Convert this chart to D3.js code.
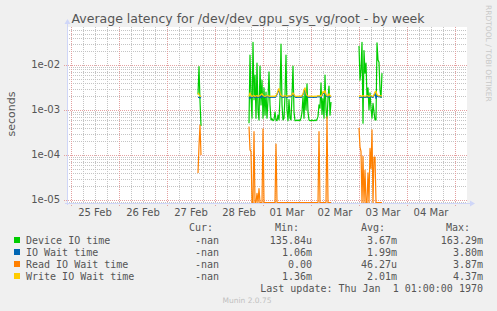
<!DOCTYPE html>
<html lang="en">
<head>
<meta charset="utf-8">
<title>Average latency for /dev/dev_gpu_sys_vg/root - by week</title>
<script src="https://d3js.org/d3.v7.min.js"></script>
<style>
body { margin: 0; background: #f0f0f0; }
svg { display: block; font-family: "DejaVu Sans", sans-serif; }
.grid-minor { stroke: #c4c4c4; stroke-dasharray: 1,1; shape-rendering: crispEdges; }
.grid-major { stroke: #e3a0a0; stroke-dasharray: 1,1; shape-rendering: crispEdges; }
.axis-line { stroke: #cfd6f8; shape-rendering: crispEdges; }
.tick-label { font-size: 10px; fill: #555; }
.legend text { font-family: "DejaVu Sans Mono", monospace; font-size: 10px; fill: #555; white-space: pre; }
.series { fill: none; stroke-width: 1.2; stroke-linejoin: round; }
</style>
</head>
<body>
<div id="chart"></div>
<script>
// ---- data (one value per 30 min) ----
var seriesNames = ["Device IO time", "IO Wait time", "Read IO Wait time", "Write IO Wait time"];
var seriesColors = ["#00cc00", "#0066b3", "#ff8000", "#ffcc00"];

// three stretches of data, the rest is unknown
var segmentStarts = ["2025-02-27T15:30:00Z", "2025-02-28T17:00:00Z", "2025-03-03T00:00:00Z"];

var deviceIO = [
  [2.2e-3, 9.2e-3, 1.6e-3, 4.4e-4],
  [5.1e-4, 0.0167, 0.0021, 6.6e-4, 0.032, 0.0017, 0.006, 6.6e-4, 0.011, 0.001,
   6.0e-4, 0.0095, 0.0013, 0.0046, 6.6e-4, 0.0031, 7.7e-4, 0.0025, 6.6e-4, 0.0017,
   0.007, 0.0013, 6.0e-4, 6.4e-4, 5.8e-4, 6.0e-4, 9.0e-4, 6.0e-4, 5.8e-4, 7.7e-4,
   6.0e-4, 0.0019, 0.029, 0.0013, 6.0e-4, 6.6e-4, 0.0021, 0.0167, 0.001, 5.8e-4,
   0.0017, 6.6e-4, 6.0e-4, 0.0021, 0.0095, 9.0e-4, 5.8e-4, 5.8e-4, 6.0e-4, 5.8e-4,
   6.0e-4, 5.8e-4, 6.6e-4, 9.0e-4, 0.002, 6.6e-4, 0.0028, 0.001, 0.0038, 9.0e-4,
   6.0e-4, 5.8e-4, 5.8e-4, 6.0e-4, 5.8e-4, 5.8e-4, 6.0e-4, 5.8e-4, 6.2e-4, 7.2e-4,
   0.0013, 0.0011, 0.004, 8.0e-4, 0.0018, 6.6e-4, 0.006, 0.001, 6.6e-4, 0.0018,
   0.0034, 7.7e-4, 0.0015],
  [0.0265, 0.0046, 0.0077, 0.032, 5.1e-4, 0.021, 0.0066, 0.011, 0.0019, 0.0031,
   0.001, 0.0024, 0.0011, 6.6e-4, 0.0014, 9.0e-4, 6.0e-4, 6.0e-4, 0.031, 0.0129,
   0.0115, 0.0028, 0.0019, 0.0066]
];

var ioWait = [
  [1.9e-3, 1.9e-3, 1.85e-3, 1.9e-3],
  [1.9e-3, 1.8e-3, 1.95e-3, 1.9e-3, 1.95e-3, 2.0e-3, 1.9e-3, 1.95e-3, 2.0e-3, 1.9e-3,
   1.95e-3, 2.0e-3, 1.85e-3, 2.1e-3, 2.0e-3, 1.95e-3, 1.9e-3, 1.95e-3, 2.0e-3, 1.95e-3,
   1.95e-3, 1.9e-3, 1.9e-3, 1.95e-3, 1.9e-3, 1.95e-3, 1.9e-3, 2.0e-3, 2.2e-3, 2.5e-3,
   2.8e-3, 2.2e-3, 2.0e-3, 1.95e-3, 1.9e-3, 1.95e-3, 2.0e-3, 1.95e-3, 1.9e-3, 1.95e-3,
   2.0e-3, 1.95e-3, 2.0e-3, 2.1e-3, 2.4e-3, 2.1e-3, 1.95e-3, 1.9e-3, 1.9e-3, 1.95e-3,
   1.9e-3, 1.95e-3, 1.9e-3, 2.0e-3, 2.2e-3, 2.6e-3, 2.9e-3, 2.3e-3, 2.0e-3, 1.95e-3,
   1.9e-3, 1.95e-3, 1.9e-3, 1.95e-3, 1.9e-3, 1.9e-3, 1.95e-3, 1.9e-3, 1.95e-3, 2.0e-3,
   1.95e-3, 2.0e-3, 1.9e-3, 2.1e-3, 2.4e-3, 2.3e-3, 2.5e-3, 2.1e-3, 2.0e-3, 1.95e-3,
   2.2e-3, 2.0e-3, 1.9e-3],
  [1.85e-3, 1.9e-3, 1.95e-3, 1.9e-3, 2.0e-3, 1.95e-3, 1.9e-3, 1.95e-3, 2.0e-3, 1.95e-3,
   1.9e-3, 1.95e-3, 2.0e-3, 1.95e-3, 1.9e-3, 2.1e-3, 2.4e-3, 1.8e-3, 2.1e-3, 2.0e-3,
   1.95e-3, 2.0e-3, 1.95e-3, 1.95e-3]
];

var readWait = [
  [4.0e-5, 1.6e-4, 4.6e-4, 1.0e-4],
  [4.3e-4, 1.3e-4, 1.2e-4, 0, 0, 3.3e-4, 0, 0, 1.4e-5, 0,
   1.8e-5, 0, 0, 0, 3.8e-4, 0, 0, 0, 0, 0,
   0, 0, 0, 0, 0, 0, 0, 1.75e-4, 0, 0,
   0, 0, 0, 0, 0, 0, 0, 0, 0, 0,
   0, 0, 0, 0, 0, 0, 0, 0, 0, 0,
   0, 0, 0, 0, 0, 0, 0, 0, 0, 0,
   0, 0, 0, 0, 0, 0, 0, 0, 0, 0,
   3.3e-4, 0, 0, 0, 0, 0, 0, 0, 7.0e-4, 0,
   0, 0, 0],
  [4.0e-4, 1.5e-4, 1.2e-4, 0, 9.3e-5, 0, 4.6e-5, 0, 0, 4.0e-5,
   0, 1.4e-4, 5.0e-5, 3.6e-4, 0, 9.0e-5, 9.0e-5, 0, 0, 0,
   0, 0, 0, 0]
];

var writeWait = [
  [2.4e-3, 2.2e-3, 2.05e-3, 2.0e-3],
  [2.0e-3, 2.4e-3, 2.1e-3, 2.0e-3, 2.05e-3, 2.1e-3, 2.0e-3, 2.05e-3, 2.1e-3, 2.0e-3,
   2.05e-3, 2.1e-3, 2.2e-3, 2.3e-3, 2.1e-3, 2.05e-3, 2.0e-3, 2.05e-3, 2.1e-3, 2.05e-3,
   2.05e-3, 2.0e-3, 2.0e-3, 2.05e-3, 2.0e-3, 2.05e-3, 2.0e-3, 2.1e-3, 2.3e-3, 2.7e-3,
   3.0e-3, 2.4e-3, 2.1e-3, 2.05e-3, 2.0e-3, 2.05e-3, 2.1e-3, 2.05e-3, 2.0e-3, 2.05e-3,
   2.1e-3, 2.05e-3, 2.1e-3, 2.2e-3, 2.4e-3, 2.2e-3, 2.05e-3, 2.0e-3, 2.0e-3, 2.05e-3,
   2.0e-3, 2.05e-3, 2.0e-3, 2.1e-3, 2.3e-3, 2.8e-3, 3.1e-3, 2.4e-3, 2.1e-3, 2.05e-3,
   2.0e-3, 2.05e-3, 2.0e-3, 2.05e-3, 2.0e-3, 2.0e-3, 2.05e-3, 2.0e-3, 2.05e-3, 2.1e-3,
   2.05e-3, 2.1e-3, 2.0e-3, 2.2e-3, 2.6e-3, 2.4e-3, 2.7e-3, 2.2e-3, 2.1e-3, 2.05e-3,
   2.3e-3, 2.1e-3, 2.0e-3],
  [2.0e-3, 2.1e-3, 2.05e-3, 2.0e-3, 2.1e-3, 2.05e-3, 2.0e-3, 2.05e-3, 2.1e-3, 2.05e-3,
   2.0e-3, 2.05e-3, 2.1e-3, 2.05e-3, 2.0e-3, 2.2e-3, 2.5e-3, 2.6e-3, 2.2e-3, 2.1e-3,
   2.05e-3, 2.1e-3, 2.05e-3, 2.05e-3]
];

var yTickValues = [1e-2, 1e-3, 1e-4, 1e-5];
var yTickLabels = ["1e-02", "1e-03", "1e-04", "1e-05"];
var dayLabels = ["25 Feb", "26 Feb", "27 Feb", "28 Feb", "01 Mar", "02 Mar", "03 Mar", "04 Mar"];

var legendCur = ["-nan", "-nan", "-nan", "-nan"];
var legendMin = ["135.84u", "1.06m", "0.00", "1.36m"];
var legendAvg = ["3.67m", "1.99m", "46.27u", "2.01m"];
var legendMax = ["163.29m", "3.80m", "3.87m", "4.37m"];

// ---- layout ----
var W = 497, H = 311;
var margin = {top: 27, left: 67};
var width = 400, height = 176;

var svg = d3.select("#chart").append("svg")
    .attr("width", W)
    .attr("height", H);

svg.append("rect").attr("width", W).attr("height", H).attr("fill", "#f0f0f0");

var tStart = new Date("2025-02-24T22:00:00Z"),
    tEnd = new Date("2025-03-05T06:00:00Z");

var x = d3.scaleUtc().domain([tStart, tEnd]).range([0, width]);
var y = d3.scaleLog()
    .domain([Math.pow(10, -5.0667), Math.pow(10, -1.1556)])
    .range([height, 0]);

var g = svg.append("g")
    .attr("transform", "translate(" + margin.left + "," + margin.top + ")");

g.append("rect").attr("width", width).attr("height", height).attr("fill", "#fff");

// grid: minor every 6 hours / 2..9 per decade, major at midnight / decades
var hours6 = d3.utcHour.every(6).range(tStart, tEnd).filter(function(d) { return d.getUTCHours() !== 0; });
var days = d3.utcDay.range(tStart, tEnd);

var minorY = [];
for (var e = -6; e <= -1; e++) {
  for (var m = 2; m <= 9; m++) {
    var v = m * Math.pow(10, e);
    if (v > y.domain()[0] && v < y.domain()[1]) minorY.push(v);
  }
}

g.selectAll(".gx-minor").data(hours6).enter().append("line")
    .attr("class", "grid-minor")
    .attr("x1", function(d) { return Math.round(x(d)) + 0.5; })
    .attr("x2", function(d) { return Math.round(x(d)) + 0.5; })
    .attr("y1", 0).attr("y2", height);

g.selectAll(".gy-minor").data(minorY).enter().append("line")
    .attr("class", "grid-minor")
    .attr("x1", 0).attr("x2", width)
    .attr("y1", function(d) { return Math.round(y(d)) + 0.5; })
    .attr("y2", function(d) { return Math.round(y(d)) + 0.5; });

g.selectAll(".gx-major").data(days).enter().append("line")
    .attr("class", "grid-major")
    .attr("x1", function(d) { return Math.round(x(d)) + 0.5; })
    .attr("x2", function(d) { return Math.round(x(d)) + 0.5; })
    .attr("y1", 0).attr("y2", height + 3);

g.selectAll(".gy-major").data(yTickValues).enter().append("line")
    .attr("class", "grid-major")
    .attr("x1", -3).attr("x2", width)
    .attr("y1", function(d) { return Math.round(y(d)) + 0.5; })
    .attr("y2", function(d) { return Math.round(y(d)) + 0.5; });

// ---- series ----
function buildPoints(segs) {
  var pts = [];
  segs.forEach(function(vals, si) {
    var t0 = new Date(segmentStarts[si]).getTime();
    vals.forEach(function(v, i) {
      pts.push({t: new Date(t0 + i * 1800000), v: v});
    });
    pts.push({t: null, v: null}); // gap between stretches
  });
  return pts;
}

var line = d3.line()
    .defined(function(d) { return d.v !== null; })
    .x(function(d) { return x(d.t); })
    .y(function(d) { return d.v > 0 ? y(d.v) : height - 0.5; });

g.append("clipPath").attr("id", "plotclip")
  .append("rect").attr("x", 0).attr("y", 0).attr("width", width).attr("height", height);

var allSeries = [deviceIO, ioWait, readWait, writeWait];
var plot = g.append("g").attr("clip-path", "url(#plotclip)");
allSeries.forEach(function(s, i) {
  plot.append("path")
      .datum(buildPoints(s))
      .attr("class", "series")
      .attr("stroke", seriesColors[i])
      .attr("d", line);
});

// ---- axes (munin style: pale lines with arrows) ----
g.append("line").attr("class", "axis-line")
    .attr("x1", 0.5).attr("x2", 0.5).attr("y1", height + 2).attr("y2", -4);
g.append("path").attr("fill", "#cfd6f8")
    .attr("d", "M-2.5,-3 L3.5,-3 L0.5,-8 Z");
g.append("line").attr("class", "axis-line")
    .attr("x1", -2).attr("x2", width + 4).attr("y1", height + 0.5).attr("y2", height + 0.5);
g.append("path").attr("fill", "#cfd6f8")
    .attr("d", "M" + (width + 3) + "," + (height - 2.5) + " L" + (width + 3) + "," + (height + 3.5) + " L" + (width + 8) + "," + (height + 0.5) + " Z");

g.selectAll(".ylab").data(yTickValues).enter().append("text")
    .attr("class", "tick-label")
    .attr("x", -7)
    .attr("y", function(d) { return y(d) + 3.5; })
    .attr("text-anchor", "end")
    .text(function(d, i) { return yTickLabels[i]; });

g.selectAll(".xlab").data(days.slice(0, dayLabels.length)).enter().append("text")
    .attr("class", "tick-label")
    .attr("x", function(d) { return x(d3.utcHour.offset(d, 12)); })
    .attr("y", height + 13)
    .attr("text-anchor", "middle")
    .text(function(d, i) { return dayLabels[i]; });

// ---- titles ----
svg.append("text")
    .attr("x", 248).attr("y", 23)
    .attr("text-anchor", "middle")
    .attr("font-size", "12.5px")
    .attr("fill", "#555")
    .text("Average latency for /dev/dev_gpu_sys_vg/root - by week");

svg.append("text")
    .attr("transform", "translate(15,114) rotate(-90)")
    .attr("text-anchor", "middle")
    .attr("font-size", "11px")
    .attr("fill", "#555")
    .text("seconds");

svg.append("text")
    .attr("transform", "translate(486,5) rotate(90)")
    .attr("font-size", "7.5px")
    .attr("fill", "#c8c8c8")
    .text("RRDTOOL / TOBI OETIKER");

// ---- legend ----
var legend = svg.append("g").attr("class", "legend");
var rowY = [244, 256, 268, 280];

legend.append("text").attr("x", 213).attr("y", 231).attr("text-anchor", "end").text("Cur:");
legend.append("text").attr("x", 299).attr("y", 231).attr("text-anchor", "end").text("Min:");
legend.append("text").attr("x", 385).attr("y", 231).attr("text-anchor", "end").text("Avg:");
legend.append("text").attr("x", 470).attr("y", 231).attr("text-anchor", "end").text("Max:");

seriesNames.forEach(function(name, i) {
  legend.append("rect")
      .attr("x", 14).attr("y", rowY[i] - 7)
      .attr("width", 6).attr("height", 6)
      .attr("fill", seriesColors[i]);
  legend.append("text").attr("x", 26).attr("y", rowY[i]).text(name);
  legend.append("text").attr("x", 219).attr("y", rowY[i]).attr("text-anchor", "end").text(legendCur[i]);
  legend.append("text").attr("x", 312).attr("y", rowY[i]).attr("text-anchor", "end").text(legendMin[i]);
  legend.append("text").attr("x", 397).attr("y", rowY[i]).attr("text-anchor", "end").text(legendAvg[i]);
  legend.append("text").attr("x", 483).attr("y", rowY[i]).attr("text-anchor", "end").text(legendMax[i]);
});

legend.append("text").attr("x", 483).attr("y", 292).attr("text-anchor", "end")
    .text("Last update: Thu Jan  1 01:00:00 1970");

svg.append("text")
    .attr("x", 247).attr("y", 303)
    .attr("text-anchor", "middle")
    .attr("font-size", "7.5px")
    .attr("fill", "#c0c0c0")
    .text("Munin 2.0.75");
</script>
</body>
</html>
